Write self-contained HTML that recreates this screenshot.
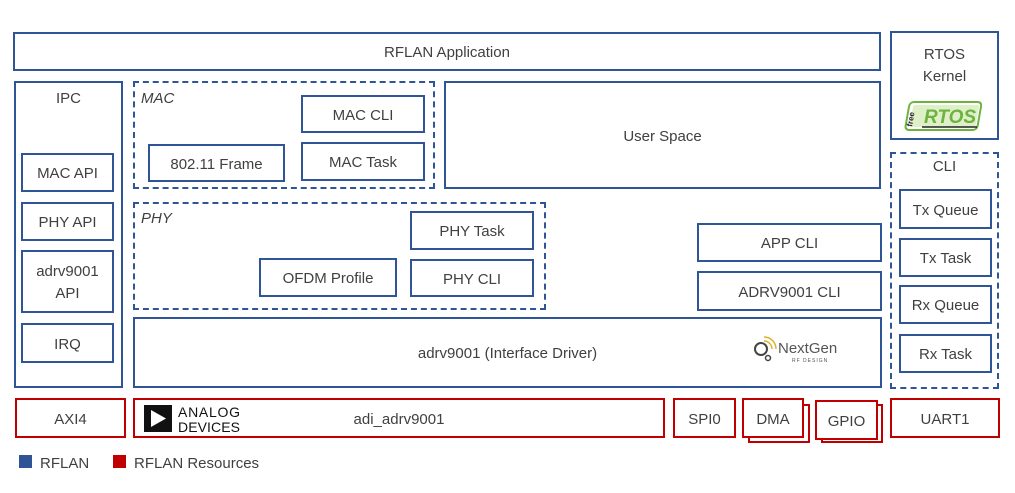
<!DOCTYPE html>
<html><head><meta charset="utf-8"><style>
body{margin:0;width:1015px;height:493px;background:#fff;position:relative;overflow:hidden;font-family:"Liberation Sans",sans-serif;color:#404040;font-size:15px}
.b{position:absolute;box-sizing:border-box;border:2px solid #2F5597;background:#fff;display:flex;align-items:center;justify-content:center;text-align:center;line-height:22px;padding-top:3px}
.d{border-style:dashed}
.r{border-color:#C00000}
.t{position:absolute}
.i{font-style:italic}
</style></head><body>
<div class="b" style="left:13px;top:32px;width:868px;height:39px">RFLAN Application</div>
<div class="b" style="left:890px;top:31px;width:109px;height:109px;align-items:flex-start;padding-top:11px">RTOS<br>Kernel</div>
<div class="t" style="left:902px;top:101px;width:80px;height:30px">
<svg width="80" height="32"><g transform="skewX(-10)"><rect x="8" y="1" width="72" height="28" rx="4" fill="#fff" stroke="#6CB33F" stroke-width="2"/><rect x="12" y="4" width="66" height="22" rx="2" fill="#dff0c8"/></g><text x="10" y="26" font-size="8" font-weight="bold" fill="#222" transform="rotate(-80 10 26)">free</text><text x="22" y="22" font-size="19" font-weight="bold" font-style="italic" fill="#6CB33F">RTOS</text><line x1="20" y1="26" x2="75" y2="26" stroke="#222" stroke-width="1.5"/></svg></div>

<div class="b" style="left:14px;top:81px;width:109px;height:307px;align-items:flex-start;padding-top:5px">IPC</div>
<div class="b" style="left:21px;top:153px;width:93px;height:39px">MAC API</div>
<div class="b" style="left:21px;top:202px;width:93px;height:39px">PHY API</div>
<div class="b" style="left:21px;top:250px;width:93px;height:63px">adrv9001<br>API</div>
<div class="b" style="left:21px;top:323px;width:93px;height:40px">IRQ</div>

<div class="b d" style="left:133px;top:81px;width:302px;height:108px"></div>
<div class="t i" style="left:141px;top:90px">MAC</div>
<div class="b" style="left:301px;top:95px;width:124px;height:38px">MAC CLI</div>
<div class="b" style="left:301px;top:142px;width:124px;height:39px">MAC Task</div>
<div class="b" style="left:148px;top:144px;width:137px;height:38px">802.11 Frame</div>

<div class="b" style="left:444px;top:81px;width:437px;height:108px">User Space</div>

<div class="b d" style="left:133px;top:202px;width:413px;height:108px"></div>
<div class="t i" style="left:141px;top:210px">PHY</div>
<div class="b" style="left:410px;top:211px;width:124px;height:39px">PHY Task</div>
<div class="b" style="left:410px;top:259px;width:124px;height:38px">PHY CLI</div>
<div class="b" style="left:259px;top:258px;width:138px;height:39px">OFDM Profile</div>

<div class="b" style="left:697px;top:223px;width:185px;height:39px">APP CLI</div>
<div class="b" style="left:697px;top:271px;width:185px;height:40px">ADRV9001 CLI</div>

<div class="b" style="left:133px;top:317px;width:749px;height:71px">adrv9001 (Interface Driver)</div>
<div class="t" style="left:752px;top:336px;width:110px;height:28px">
<svg width="110" height="28"><circle cx="9" cy="13" r="6" fill="none" stroke="#444" stroke-width="2"/><circle cx="16" cy="22" r="2.5" fill="none" stroke="#444" stroke-width="1.5"/><path d="M12 5 a8 8 0 0 1 8 8 M12 1 a12 12 0 0 1 12 12" fill="none" stroke="#E0B030" stroke-width="1.5"/><text x="26" y="17" font-size="15" fill="#555">NextGen</text><text x="40" y="26" font-size="5" fill="#555" letter-spacing="1">RF DESIGN</text></svg></div>

<div class="b d" style="left:890px;top:152px;width:109px;height:237px;align-items:flex-start;padding-top:2px">CLI</div>
<div class="b" style="left:899px;top:189px;width:93px;height:40px">Tx Queue</div>
<div class="b" style="left:899px;top:238px;width:93px;height:39px">Tx Task</div>
<div class="b" style="left:899px;top:285px;width:93px;height:39px">Rx Queue</div>
<div class="b" style="left:899px;top:334px;width:93px;height:39px">Rx Task</div>

<div class="b r" style="left:15px;top:398px;width:111px;height:40px">AXI4</div>
<div class="b r" style="left:133px;top:398px;width:532px;height:40px">adi_adrv9001</div>
<div class="t" style="left:144px;top:404px"><svg width="100" height="30"><rect x="0" y="1" width="28" height="27" fill="#111"/><polygon points="7,6 7,23 22,14.5" fill="#fff"/><text x="34" y="13" font-size="14" fill="#111" textLength="62">ANALOG</text><text x="34" y="28" font-size="14" fill="#111" textLength="62">DEVICES</text></svg></div>
<div class="b r" style="left:673px;top:398px;width:63px;height:40px">SPI0</div>
<div class="b r" style="left:748px;top:404px;width:62px;height:39px"></div>
<div class="b r" style="left:742px;top:398px;width:62px;height:40px">DMA</div>
<div class="b r" style="left:821px;top:404px;width:62px;height:39px"></div>
<div class="b r" style="left:815px;top:400px;width:63px;height:40px">GPIO</div>
<div class="b r" style="left:890px;top:398px;width:110px;height:40px">UART1</div>

<div class="t" style="left:19px;top:455px;width:13px;height:13px;background:#2F5597"></div>
<div class="t" style="left:40px;top:455px">RFLAN</div>
<div class="t" style="left:113px;top:455px;width:13px;height:13px;background:#C00000"></div>
<div class="t" style="left:134px;top:455px">RFLAN Resources</div>
</body></html>
